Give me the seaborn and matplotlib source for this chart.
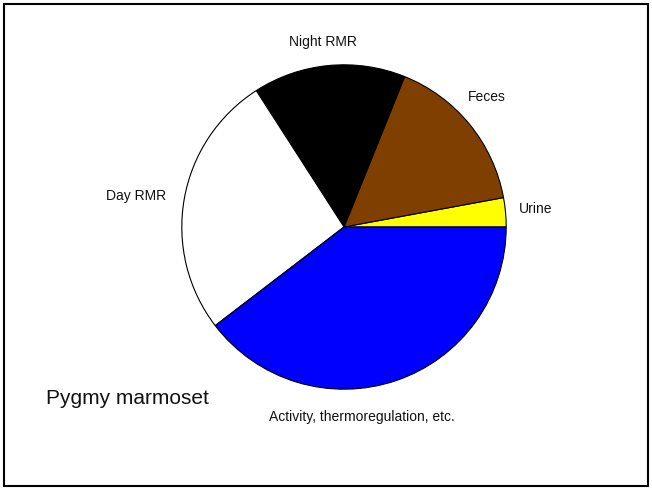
import matplotlib
matplotlib.use("Agg")
import matplotlib.pyplot as plt
import seaborn as sns
from matplotlib.patches import Rectangle

sns.set_theme(style="white")
plt.rcParams["font.family"] = ["Liberation Sans", "DejaVu Sans"]

# energy budget shares (%), counter-clockwise from 3 o'clock
categories = ["Urine", "Feces", "Night RMR", "Day RMR", "Activity, thermoregulation, etc."]
shares = [2.9, 16.0, 15.2, 26.3, 39.6]
colors = ["#ffff00", "#7f3f00", "#000000", "#ffffff", "#0000ff"]

# label positions (axes data units, pie radius = 1)
label_pos = [(1.18, 0.11), (0.88, 0.80), (-0.13, 1.14), (-1.28, 0.19), (0.11, -1.17)]

fig = plt.figure(figsize=(6.52, 4.9), dpi=100)
cx, cy, r = 344, 227, 163
ax = fig.add_axes([(cx - r) / 652, (490 - cy - r) / 490, 2 * r / 652, 2 * r / 490])

wedges, texts = ax.pie(
    shares,
    labels=categories,
    colors=colors,
    startangle=0,
    counterclock=True,
    wedgeprops=dict(edgecolor="black", linewidth=0.8),
    textprops=dict(fontsize=10, color="#111111"),
)
for t, (x, y) in zip(texts, label_pos):
    t.set_position((x, y))
    t.set_ha("center")
    t.set_va("center")

ax.set_xlim(-1.005, 1.005)
ax.set_ylim(-1.005, 1.005)
ax.set_aspect("equal")
ax.axis("off")

fig.text(127 / 652, 1 - 398 / 490, "Pygmy marmoset", fontsize=15, ha="center", va="center", color="#111111")

fig.patches.append(
    Rectangle((4 / 652, 4 / 490), 644 / 652, 482 / 490, transform=fig.transFigure,
              fill=False, edgecolor="black", linewidth=1.5)
)

fig.savefig("out.png", dpi=100)
